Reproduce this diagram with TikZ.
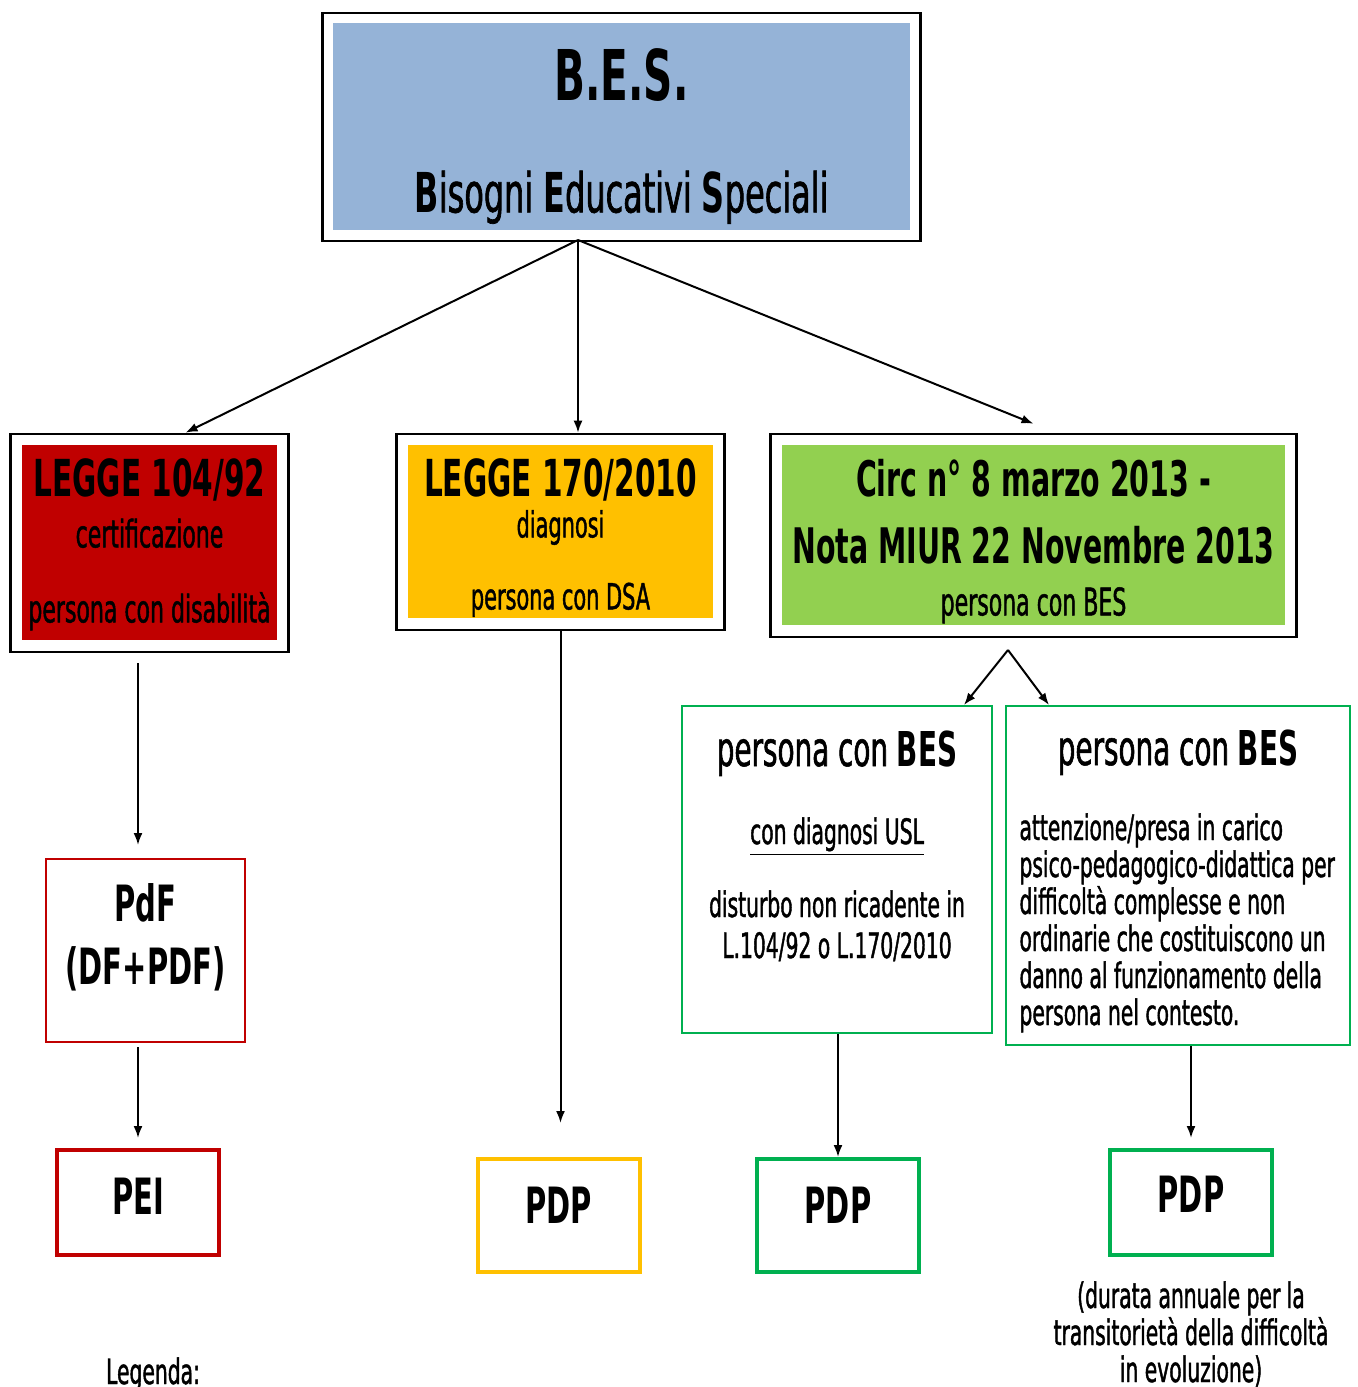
\documentclass[tikz,border=0pt]{standalone}
\usepackage{fontspec}
\setmainfont{DejaVu Sans}[FakeStretch=0.58, UprightFeatures={FakeBold=1.2}]
\usepackage{tikz}
\usetikzlibrary{arrows.meta,fit}

\definecolor{besblue}{HTML}{95B3D7}
\definecolor{legred}{HTML}{C00000}
\definecolor{legyellow}{HTML}{FFC000}
\definecolor{circgreen}{HTML}{92D050}
\definecolor{boxgreen}{HTML}{00B050}
\newcommand{\noskip}{\lineskiplimit=-50pt\relax}

\begin{document}
\begin{tikzpicture}[x = 0.5pt, y = -0.5pt,
	every node/.style = {shape = rectangle, inner sep = 0pt, anchor = north, align = center},
	frame/.style = {draw = black, line width = 1.3pt, inner sep = 5.5pt, anchor = center},
	plan/.style = {draw = #1, line width = 2pt, minimum width = 81pt, font = \fontsize{25}{30}\selectfont\bfseries},
	arr/.style = {draw = black, line width = 1pt, -{Latex[length = 6pt, width = 4.5pt]}}]
	\useasboundingbox (0, 0) rectangle (1358, 1387);
	% top
	\node[fill = besblue, minimum width = 288.5pt, text height = 94.5pt, text depth = 9pt, font = \fontsize{27.5}{56}\selectfont\noskip] (bes) at (621.5, 23) {{\fontsize{35}{35}\selectfont\bfseries B.E.S.}\\\textbf{B}isogni \textbf{E}ducativi \textbf{S}peciali};
	\node[frame, inner sep = 5pt, fit = (bes)] (besframe) {};
	% laws
	\node[fill = legred, minimum width = 127.5pt, text height = 88.5pt, text depth = 9pt, font = \fontsize{19}{25.5}\selectfont\noskip] (leg104) at (149.5, 445) {{\fontsize{25.5}{25.5}\selectfont\bfseries LEGGE 104/92}\\certificazione\\[12pt]persona con disabilità};
	\node[fill = legyellow, minimum width = 152.5pt, text height = 82pt, text depth = 4.5pt, font = \fontsize{18}{20.5}\selectfont\noskip] (leg170) at (560.5, 445) {{\fontsize{25.5}{25.5}\selectfont\bfseries LEGGE 170/2010}\\diagnosi\\[15.5pt]persona con DSA};
	\node[fill = circgreen, minimum width = 251.5pt, text height = 85pt, text depth = 5pt, font = \fontsize{19}{33.5}\selectfont\noskip] (circ) at (1033.5, 445) {{\fontsize{24.5}{24.5}\selectfont\bfseries Circ n° 8 marzo 2013 -}\\{\fontsize{24.5}{24.5}\selectfont\bfseries Nota MIUR 22 Novembre 2013}\\[-7.5pt]persona con BES};
	\node[frame, fit = (leg104)] (leg104frame) {};
	\node[frame, fit = (leg170)] (leg170frame) {};
	\node[frame, fit = (circ)] (circframe) {};
	% second row
	\node[draw = legred, line width = 1pt, minimum width = 99.5pt, text height = 62.5pt, text depth = 29pt, font = \fontsize{25}{31.5}\selectfont\bfseries] (pdf) at (145.5, 858) {PdF\\(DF+PDF)};
	\node[draw = boxgreen, line width = 1pt, minimum width = 155pt, text height = 126pt, text depth = 37.5pt, font = \fontsize{17.5}{20.5}\selectfont\noskip] (bes1) at (837, 705) {{\fontsize{24}{24}\selectfont persona con \textbf{BES}}\\[18.5pt]\underline{con diagnosi USL}\\[16pt]disturbo non ricadente in\\L.104/92 o L.170/2010};
	\node[draw = boxgreen, line width = 1pt, minimum width = 172pt, text height = 159.5pt, text depth = 10pt, align = left, font = \fontsize{17.5}{18.5}\selectfont\noskip] (bes2) at (1178, 705) {\makebox[158.5pt]{\fontsize{24}{24}\selectfont persona con \textbf{BES}}\\[19pt]attenzione/presa in carico\\psico-pedagogico-didattica per\\difficoltà complesse e non\\ordinarie che costituiscono un\\danno al funzionamento della\\persona nel contesto.};
	% plans
	\node[plan = legred, text height = 32pt, text depth = 20.5pt] (pei) at (138, 1148) {PEI};
	\node[plan = legyellow, text height = 32pt, text depth = 24.5pt] (pdpy) at (558.5, 1157) {PDP};
	\node[plan = boxgreen, text height = 32pt, text depth = 24.5pt] (pdpg) at (838, 1157) {PDP};
	\node[plan = boxgreen, text height = 31pt, text depth = 21.5pt] (pdpg2) at (1191, 1148) {PDP};
	\node[anchor = base, font = \fontsize{17.5}{18.5}\selectfont] (note) at (1191, 1382) {(durata annuale per la\\transitorietà della difficoltà\\in evoluzione)};
	\node[anchor = base, font = \fontsize{17.5}{18.5}\selectfont] (legenda) at (153, 1384) {Legenda:};
	% arrows
	\coordinate (fork) at (578, 240);
	\coordinate (peak) at (1008, 650);
	\draw[arr] (fork) -- ([xshift = 18pt]leg104frame.north);
	\draw[arr] (fork) -- (fork |- leg170frame.north);
	\draw[arr] (fork) -- ([yshift = 4.5pt]circframe.north);
	\draw[arr, shorten <= 5pt, shorten >= 6.5pt] (leg104frame.south -| pei.north) -- (pei.north |- pdf.north);
	\draw[arr, shorten <= 2pt, shorten >= 5pt] (pdf.south -| pei.north) -- (pei.north);
	\draw[arr, shorten >= 17pt] (leg170frame.south) -- (leg170frame.south |- pdpy.north);
	\draw[arr] (peak) -- ([xshift = -14.5pt]bes1.north east);
	\draw[arr] (peak) -- ([xshift = 22pt]bes2.north west);
	\draw[arr] (bes1.south -| pdpg.north) -- (pdpg.north);
	\draw[arr, shorten >= 5pt] (bes2.south -| pdpg2.north) -- (pdpg2.north);
\end{tikzpicture}
\end{document}
